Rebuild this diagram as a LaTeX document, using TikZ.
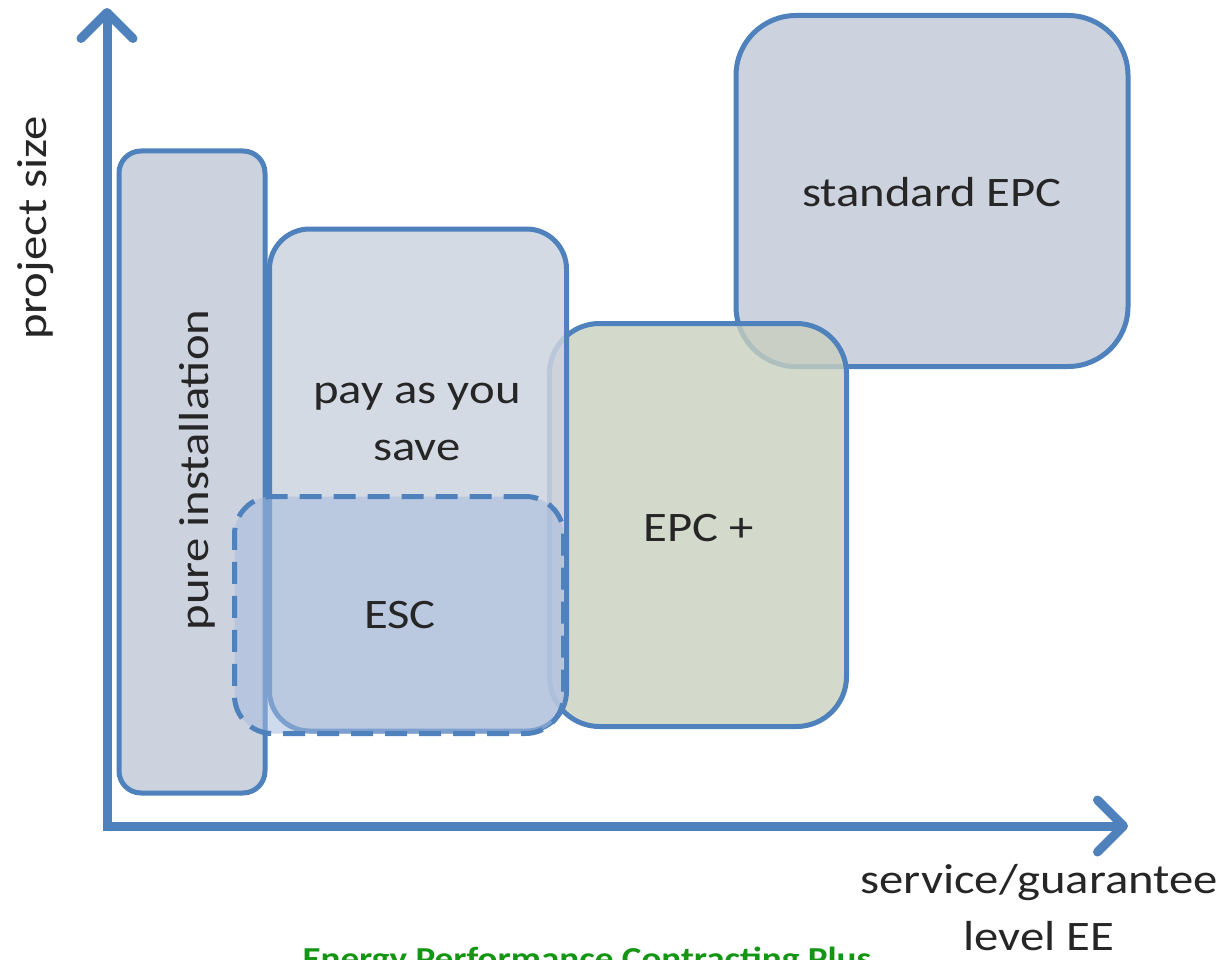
\documentclass[tikz,border=0pt]{standalone}
\usepackage{fontspec}
\setmainfont{Carlito}[FakeStretch=1.16]
\usepackage{tikz}
\usetikzlibrary{arrows.meta}

\definecolor{edgeblue}{RGB}{79,129,189}
\definecolor{boxgray}{RGB}{205,211,222}
\definecolor{boxgreen}{RGB}{200,207,190}
\definecolor{escblue}{RGB}{165,187,222}
\definecolor{titlegreen}{RGB}{20,150,20}

\begin{document}
\begin{tikzpicture}[x=1pt, y=-1pt, line width=5pt,
  box/.style={draw=edgeblue, rectangle, inner sep=0pt},
  lbl/.style={font=\fontsize{42}{57}\selectfont, text=black!85, align=center},
  axis/.style={draw=edgeblue, line width=9pt, line join=miter}]

  \useasboundingbox (0,0) rectangle (1228,960);

  \begin{scope}[xshift=0.0cm, yshift=0.0cm]

  % axes
  \coordinate (o) at (107,826);
  \coordinate (ytip) at (107,8);
  \coordinate (xtip) at (1128,826);
  \draw [axis, {Straight Barb[length=26pt, width=52pt, round]}-{Straight Barb[length=26pt, width=52pt, round]}] (ytip) -- (o) -- (xtip);

  % boxes
  \draw (192,472) node[name=pure, box, fill=boxgray, minimum width=146pt, minimum height=642pt, rounded corners=22pt] {};
  \draw (932,191) node[name=std, box, fill=boxgray, minimum width=392pt, minimum height=351pt, rounded corners=60pt] {};
  \draw (698,525) node[name=epcp, box, fill=boxgreen, fill opacity=0.8, minimum width=297pt, minimum height=403pt, rounded corners=50pt] {};
  \draw (418,480) node[name=pay, box, fill=boxgray, fill opacity=0.85, minimum width=297pt, minimum height=502pt, rounded corners=40pt] {};
  \draw (399,615) node[name=esc, box, fill=escblue, fill opacity=0.55, dash pattern=on 22pt off 12pt, minimum width=329pt, minimum height=237pt, rounded corners=38pt] {};

  % labels
  \draw (932,192) node[name=stdtxt, lbl] {standard EPC};
  \draw (417,422) node[name=paytxt, lbl] {pay as you\\save};
  \draw (699,528) node[name=epcptxt, lbl] {EPC +};
  \draw (400,615) node[name=esctxt, lbl] {ESC};
  \draw (197,470) node[name=puretxt, lbl, rotate=90] {pure installation};
  \draw (36,228) node[name=ytxt, lbl, rotate=90] {project size};
  \draw (1039,908) node[name=xtxt, lbl] {service/guarantee\\level EE};
  \draw (587,969) node[name=title, anchor=base, font=\fontsize{32}{36}\selectfont\bfseries, text=titlegreen] {Energy Performance Contracting Plus};

  \end{scope}

\end{tikzpicture}
\end{document}
